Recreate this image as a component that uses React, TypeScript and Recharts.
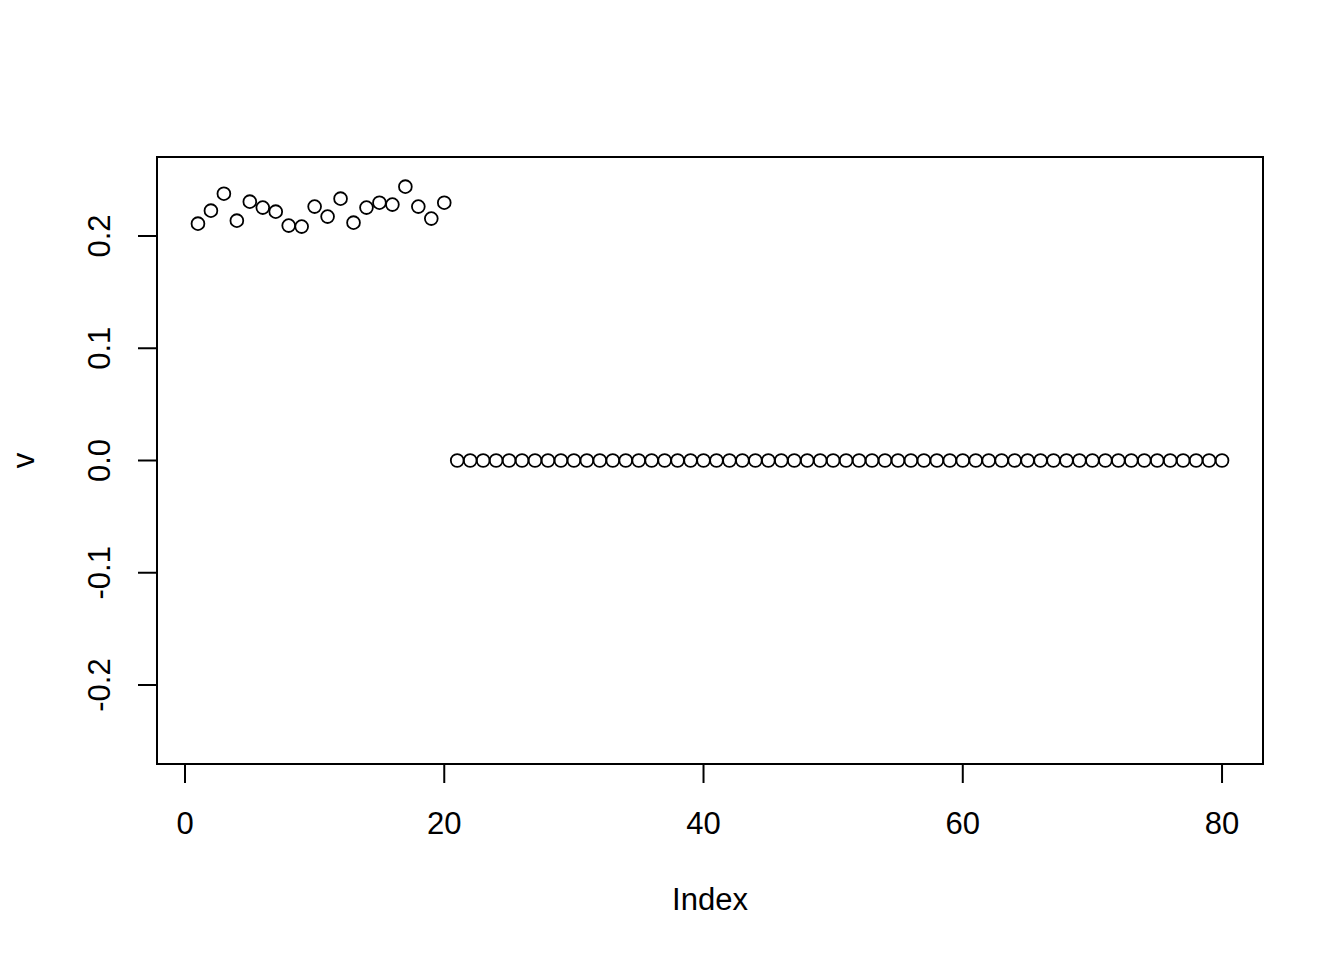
import React from 'react';
import {
  ScatterChart,
  Scatter,
  XAxis,
  YAxis,
  ReferenceArea,
} from 'recharts';

// v: first 20 values, the rest sit on zero
const headValues = [
  0.211, 0.2226, 0.2377, 0.2137, 0.2306, 0.2253, 0.2217, 0.2093, 0.2084, 0.2262,
  0.2173, 0.2333, 0.2119, 0.2253, 0.2297, 0.228, 0.244, 0.2262, 0.2155, 0.2297,
];
const tailValues = [
  0, 0, 0, 0, 0, 0, 0, 0, 0, 0, 0, 0, 0, 0, 0, 0, 0, 0, 0, 0,
  0, 0, 0, 0, 0, 0, 0, 0, 0, 0, 0, 0, 0, 0, 0, 0, 0, 0, 0, 0,
  0, 0, 0, 0, 0, 0, 0, 0, 0, 0, 0, 0, 0, 0, 0, 0, 0, 0, 0, 0,
];
const xTicks = [0, 20, 40, 60, 80];
const yTicks = [-0.2, -0.1, 0, 0.1, 0.2];
const xDomain: [number, number] = [-2.16, 83.16];
const yDomain: [number, number] = [-0.2704, 0.2704];

const data = [...headValues, ...tailValues].map((v, i) => ({ index: i + 1, v }));

const FONT = '"Liberation Sans", Arial, Helvetica, sans-serif';
const FS = 31;

const XTick = (props: any) => {
  const { x, y, payload } = props;
  return (
    <text x={x} y={y + 51} textAnchor="middle" fontSize={FS} fontFamily={FONT} fill="#000">
      {payload.value}
    </text>
  );
};

const YTick = (props: any) => {
  const { x, y, payload } = props;
  const bx = x - 28;
  return (
    <text
      x={bx}
      y={y}
      transform={`rotate(-90, ${bx}, ${y})`}
      textAnchor="middle"
      fontSize={FS}
      fontFamily={FONT}
      fill="#000"
    >
      {Number(payload.value).toFixed(1)}
    </text>
  );
};

const XLabel = (props: any) => {
  const vb = props.viewBox;
  return (
    <text x={vb.x + vb.width / 2} y={vb.y + 146} textAnchor="middle" fontSize={FS} fontFamily={FONT} fill="#000">
      Index
    </text>
  );
};

const YLabel = (props: any) => {
  const vb = props.viewBox;
  const cx = 34;
  const cy = vb.y + vb.height / 2;
  return (
    <text x={cx} y={cy} transform={`rotate(-90, ${cx}, ${cy})`} textAnchor="middle" fontSize={FS} fontFamily={FONT} fill="#000">
      v
    </text>
  );
};

const Ring = (props: any) => (
  <circle cx={props.cx} cy={props.cy} r={6.4} fill="none" stroke="#000" strokeWidth={1.8} />
);

export default function App() {
  return (
    <div style={{ position: 'absolute', left: 0, top: 0, background: '#fff' }}>
      <ScatterChart width={1344} height={960} margin={{ top: 157, right: 81, bottom: 76, left: 37 }}>
        <XAxis
          type="number"
          dataKey="index"
          domain={xDomain}
          ticks={xTicks}
          allowDataOverflow
          axisLine={false}
          tickLine={{ stroke: '#000', strokeWidth: 2 }}
          tickSize={19}
          tickMargin={0}
          tick={<XTick />}
          height={120}
          label={XLabel}
        />
        <YAxis
          type="number"
          dataKey="v"
          domain={yDomain}
          ticks={yTicks}
          allowDataOverflow
          axisLine={false}
          tickLine={{ stroke: '#000', strokeWidth: 2 }}
          tickSize={19}
          tickMargin={0}
          tick={<YTick />}
          width={120}
          label={YLabel}
        />
        <ReferenceArea
          x1={xDomain[0]}
          x2={xDomain[1]}
          y1={yDomain[0]}
          y2={yDomain[1]}
          fill="none"
          stroke="#000"
          strokeWidth={2}
          ifOverflow="visible"
        />
        <Scatter data={data} shape={Ring} isAnimationActive={false} />
      </ScatterChart>
    </div>
  );
}
